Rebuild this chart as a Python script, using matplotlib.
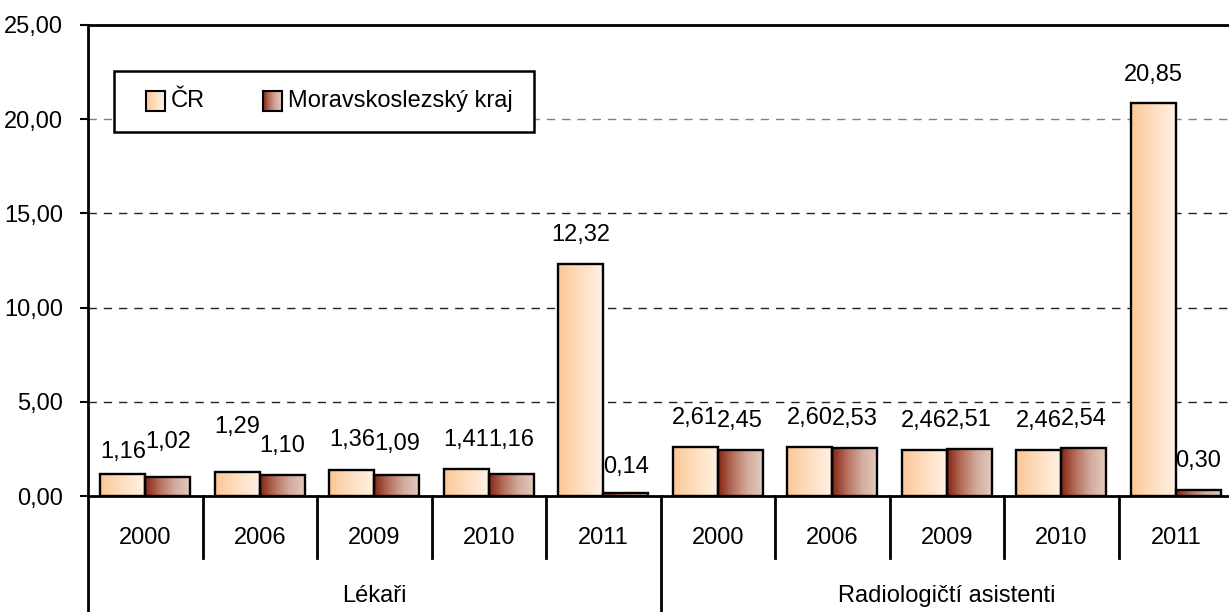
import numpy as np
import matplotlib
matplotlib.use('Agg')
import matplotlib.pyplot as plt
import matplotlib.transforms as mtrans
from matplotlib.patches import Rectangle
from matplotlib.lines import Line2D

# ---------------- data ----------------
groups = ['Lékaři', 'Radiologičtí asistenti']
years = ['2000', '2006', '2009', '2010', '2011']
series_names = ['ČR', 'Moravskoslezský kraj']
cr_values = [1.16, 1.29, 1.36, 1.41, 12.32, 2.61, 2.60, 2.46, 2.46, 20.85]
ms_values = [1.02, 1.10, 1.09, 1.16, 0.14, 2.45, 2.53, 2.51, 2.54, 0.30]
y_ticks = [0, 5, 10, 15, 20, 25]

# label offsets (pixels from bar top to text centre) - style only
cr_label_off = [22, 45, 30, 29, 29, 29, 29, 29, 29, 28]
ms_label_off = [35, 29, 31, 34, 26, 29, 29, 29, 29, 29]

W, H = 1229, 612
FONT = ['Liberation Sans', 'DejaVu Sans']
FS = 17
plt.rcParams['font.family'] = FONT

fig = plt.figure(figsize=(W / 100, H / 100), dpi=100)
px = mtrans.Affine2D().scale(1 / W, -1 / H).translate(0, 1) + fig.transFigure

left, right, top, bottom = 88, 1233, 25, 496
ax = fig.add_axes([left / W, 1 - bottom / H, (right - left) / W, (bottom - top) / H])

n = len(cr_values)

# gradients
def grad(stops, N=256):
    xs = np.linspace(0, 1, N)
    pos = [s[0] for s in stops]
    cols = np.array([s[1] for s in stops], dtype=float) / 255
    img = np.stack([np.interp(xs, pos, cols[:, k]) for k in range(3)], axis=-1)
    return img[None, :, :]

cr_grad = grad([(0, (252, 198, 148)), (0.5, (254, 222, 192)), (1, (255, 242, 228))])
ms_grad = grad([(0, (132, 36, 18)), (0.3, (178, 106, 86)), (0.65, (210, 170, 155)), (1, (226, 202, 190))])

bw = 0.393
for i in range(n):
    c = i + 0.5
    for vals, g, off, x0 in ((cr_values, cr_grad, cr_label_off, c - bw),
                             (ms_values, ms_grad, ms_label_off, c)):
        v = vals[i]
        ax.imshow(g, extent=[x0, x0 + bw, 0, v], aspect='auto',
                  interpolation='bilinear', zorder=2)
        ax.add_patch(Rectangle((x0, 0), bw, v, fill=False, edgecolor='black',
                               linewidth=1.7, zorder=3))
        ax.annotate(f"{v:.2f}".replace('.', ','), xy=(x0 + bw / 2, v),
                    xytext=(0, off[i]), textcoords='offset pixels',
                    ha='center', va='center', fontsize=FS, zorder=5)

ax.set_xlim(0, n)
ax.set_ylim(0, 25)

# gridlines
for t in y_ticks[1:-1]:
    col = '#808080' if t == 20 else '#222222'
    ax.axhline(t, color=col, linewidth=1.0, linestyle=(0, (6, 5)), zorder=1)

# spines
ax.spines['right'].set_visible(False)
ax.spines['top'].set_linewidth(2)
ax.spines['left'].set_linewidth(2)
ax.spines['bottom'].set_linewidth(2)

ax.set_yticks(y_ticks)
ax.set_yticklabels([f"{t:.2f}".replace('.', ',') for t in y_ticks], fontsize=FS)
ax.tick_params(axis='y', direction='out', length=6, width=1.5, pad=12)
ax.set_xticks([])

# category axis below
bt = mtrans.blended_transform_factory(ax.transData, px)
for i in range(n + 1):
    y_end = H if i % len(years) == 0 else 558
    ax.add_line(Line2D([i, i], [bottom, y_end], transform=bt, color='black',
                       linewidth=2, clip_on=False))
for i in range(n):
    ax.text(i + 0.5, 538, years[i % len(years)], transform=bt, ha='center',
            va='center', fontsize=FS, clip_on=False)
for gi, g in enumerate(groups):
    ax.text(gi * len(years) + len(years) / 2, 596, g, transform=bt, ha='center',
            va='center', fontsize=FS, clip_on=False)

# legend (manual)
ax.add_patch(Rectangle((114, 71), 420, 61, transform=px, facecolor='white',
                       edgecolor='black', linewidth=1.8, zorder=6, clip_on=False))
for (x0, name, g) in ((146, series_names[0], cr_grad), (263, series_names[1], ms_grad)):
    lax = fig.add_axes([x0 / W, 1 - 111 / H, 19 / W, 20 / H], zorder=7)
    lax.imshow(g, aspect='auto', interpolation='bilinear')
    lax.set_xticks([]); lax.set_yticks([])
    for s in lax.spines.values():
        s.set_linewidth(1.5)
    fig.text((x0 + 25) / W, 1 - 101 / H, name, ha='left', va='center',
             fontsize=FS, zorder=8)

fig.savefig('out.png', dpi=100)
